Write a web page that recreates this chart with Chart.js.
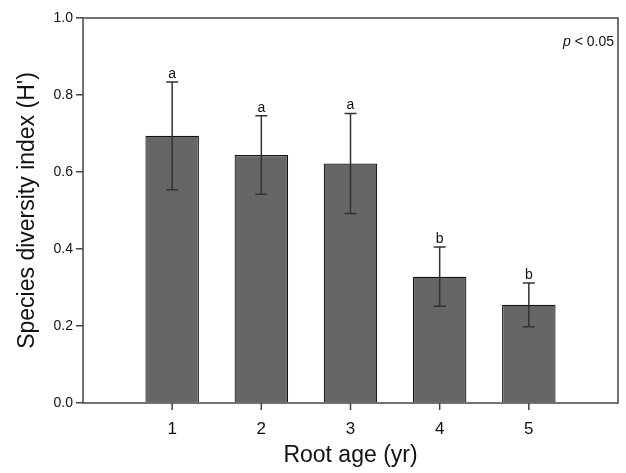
<!DOCTYPE html>
<html>
<head>
<meta charset="utf-8">
<script src="https://cdn.jsdelivr.net/npm/chart.js@4/dist/chart.umd.min.js"></script>
<style>
  body { margin: 0; background: #fff; }
  #wrap { width: 626px; height: 473px; }
</style>
</head>
<body>
<div id="wrap"><canvas id="mycanvas" width="626" height="473"></canvas></div>
<script>
var rootAge = [1, 2, 3, 4, 5];
var diversity = [0.694, 0.644, 0.622, 0.328, 0.255];
var stdErr = [0.140, 0.102, 0.130, 0.077, 0.057];
var letters = ['a', 'a', 'a', 'b', 'b'];
var yTicks = [0, 0.2, 0.4, 0.6, 0.8, 1.0];

var fontFamily = "'Liberation Sans', Arial, sans-serif";

// error bars, significance letters, x tick marks and the box around the plot
var extras = {
	id: 'extras',
	afterDatasetsDraw: function(chart) {
		var ctx = chart.ctx;
		var xs = chart.scales.x, ys = chart.scales.y;
		var area = chart.chartArea;
		ctx.save();
		ctx.strokeStyle = '#333';
		ctx.lineWidth = 1.5;
		for (var i = 0; i < rootAge.length; i++) {
			var x = xs.getPixelForValue(rootAge[i]);
			var top = ys.getPixelForValue(diversity[i] + stdErr[i]);
			var bot = ys.getPixelForValue(diversity[i] - stdErr[i]);
			ctx.beginPath();
			ctx.moveTo(x, top); ctx.lineTo(x, bot);
			ctx.moveTo(x - 6, top); ctx.lineTo(x + 6, top);
			ctx.moveTo(x - 6, bot); ctx.lineTo(x + 6, bot);
			ctx.stroke();
			ctx.fillStyle = '#111';
			ctx.font = '14px ' + fontFamily;
			ctx.textAlign = 'center';
			ctx.textBaseline = 'bottom';
			ctx.fillText(letters[i], x, top - 1);
		}
		ctx.strokeStyle = '#444';
		ctx.lineWidth = 1.5;
		ctx.beginPath();
		for (var j = 0; j < rootAge.length; j++) {
			var tx = xs.getPixelForValue(rootAge[j]);
			ctx.moveTo(tx, area.bottom); ctx.lineTo(tx, area.bottom + 7);
		}
		ctx.stroke();
		ctx.strokeRect(area.left, area.top, area.right - area.left, area.bottom - area.top);

		// p value note
		ctx.fillStyle = '#111';
		ctx.textBaseline = 'middle';
		ctx.textAlign = 'right';
		ctx.font = '14px ' + fontFamily;
		var rest = ' < 0.05';
		var restW = ctx.measureText(rest).width;
		ctx.fillText(rest, area.right - 4, area.top + 24);
		ctx.font = 'italic 14px ' + fontFamily;
		ctx.fillText('p', area.right - 4 - restW, area.top + 24);
		ctx.restore();
	}
};

var chartdata = {
	datasets: [
		{
			label: 'diversity',
			data: rootAge.map(function(a, i) { return { x: a, y: diversity[i] }; }),
			backgroundColor: '#666666',
			borderColor: '#111',
			borderWidth: 1.2,
			barPercentage: 0.6,
			categoryPercentage: 1.0
		}
	]
};

var ctx = document.getElementById('mycanvas');
var barGraph = new Chart(ctx, {
	type: 'bar',
	data: chartdata,
	plugins: [extras],
	options: {
		responsive: false,
		animation: false,
		layout: { padding: { left: 10, top: 18, right: 8, bottom: 0 } },
		plugins: { legend: { display: false }, tooltip: { enabled: false } },
		scales: {
			x: {
				type: 'linear',
				min: 0,
				max: 6,
				offset: false,
				afterBuildTicks: function(s) { s.ticks = rootAge.map(function(v) { return { value: v }; }); },
				afterFit: function(s) { s.height = 70; },
				grid: { display: false },
				border: { display: false },
				ticks: { color: '#111', font: { size: 17, family: fontFamily }, padding: 8 },
				title: { display: true, text: 'Root age (yr)', color: '#111', font: { size: 23, family: fontFamily }, padding: { top: 14 } }
			},
			y: {
				min: 0,
				max: 1,
				afterBuildTicks: function(s) { s.ticks = yTicks.map(function(v) { return { value: v }; }); },
				afterFit: function(s) { s.width = 73; },
				grid: { drawOnChartArea: false, drawTicks: true, tickLength: 7, color: '#444', lineWidth: 1.5 },
				border: { display: false },
				ticks: {
					color: '#111',
					font: { size: 14, family: fontFamily },
					padding: 3,
					callback: function(v) { return v.toFixed(1); }
				},
				title: { display: true, text: "Species diversity index (H')", color: '#111', font: { size: 23, family: fontFamily }, padding: { bottom: 4 } }
			}
		}
	}
});
</script>
</body>
</html>
